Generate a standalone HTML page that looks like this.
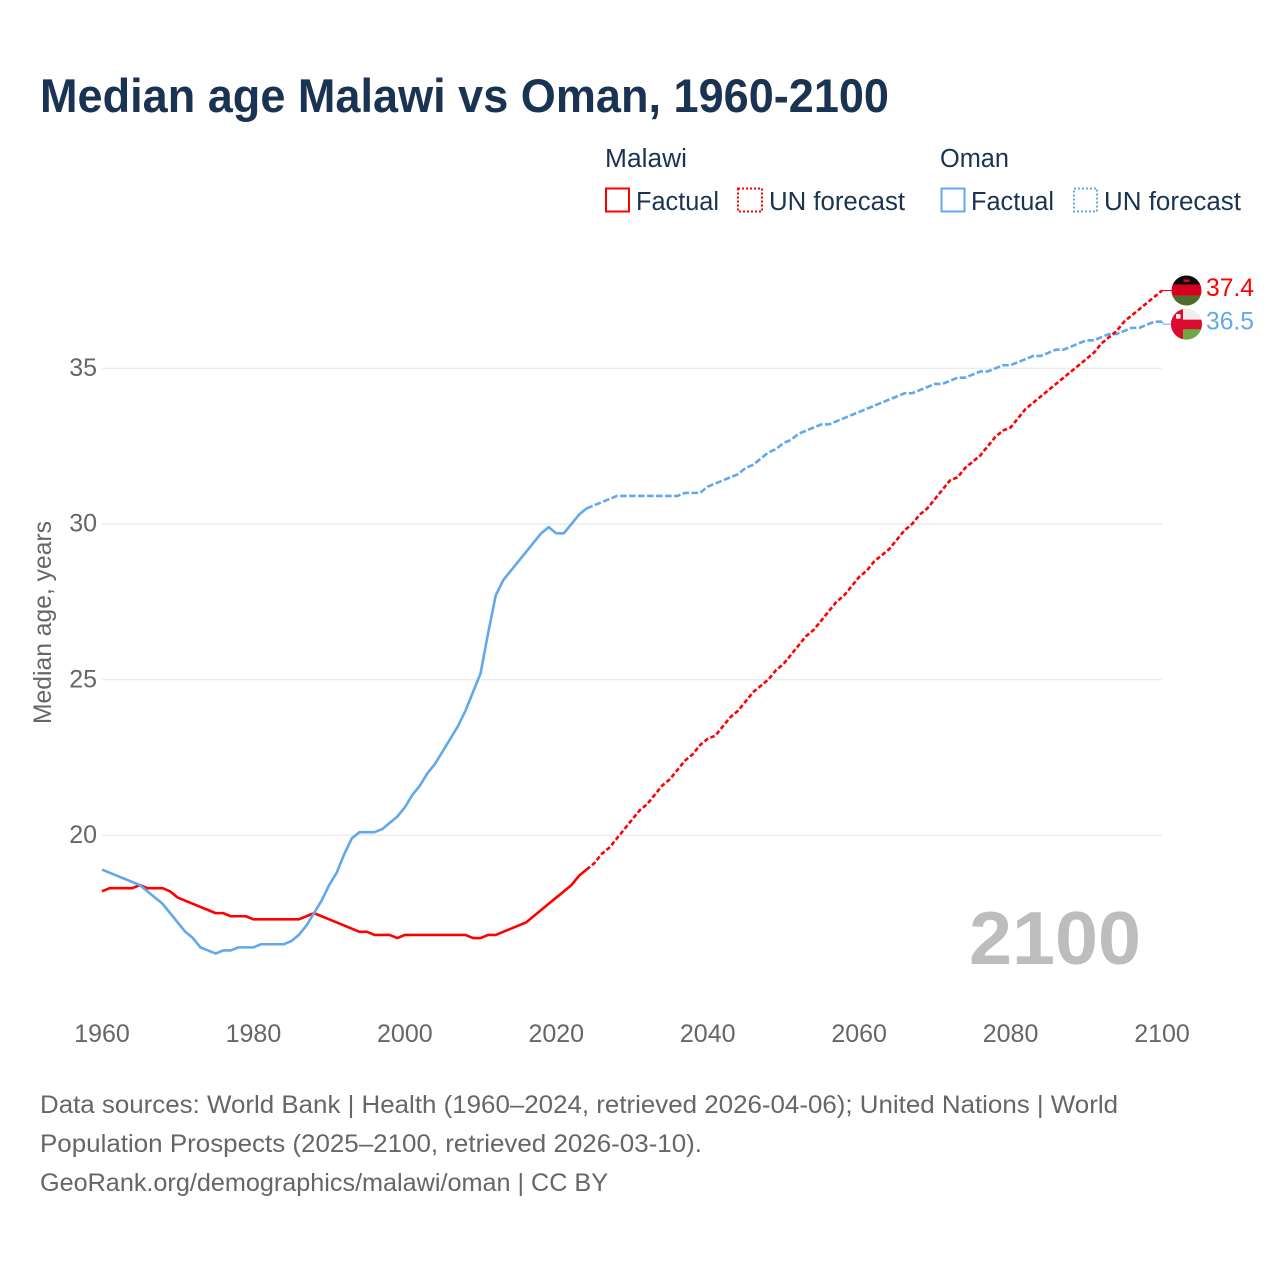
<!DOCTYPE html>
<html lang="en">
<head>
<meta charset="utf-8">
<title>Median age Malawi vs Oman, 1960-2100</title>
<style>
html,body{margin:0;padding:0;background:#fff;}
svg{display:block;}
text{font-family:"Liberation Sans",sans-serif;}
</style>
</head>
<body>
<svg id="chart" xmlns="http://www.w3.org/2000/svg" width="1280" height="1280" viewBox="0 0 1280 1280">
  <rect x="0" y="0" width="1280" height="1280" fill="#ffffff"/>
  <text x="40" y="112" font-size="47" font-weight="700" fill="#1a3352" textLength="849" lengthAdjust="spacingAndGlyphs">Median age Malawi vs Oman, 1960-2100</text>

  <g fill="#1a3352" font-size="25.5">
    <text x="605" y="167" textLength="82" lengthAdjust="spacingAndGlyphs">Malawi</text>
    <text x="940" y="167" textLength="69" lengthAdjust="spacingAndGlyphs">Oman</text>
    <rect x="606" y="188.500" width="23" height="23" fill="none" stroke="#ff0000" stroke-width="2"/>
    <text x="636" y="210" textLength="83" lengthAdjust="spacingAndGlyphs">Factual</text>
    <rect x="738" y="188.500" width="24" height="23" fill="none" stroke="#ff0000" stroke-width="2" stroke-dasharray="2 2"/>
    <text x="769" y="210" textLength="136" lengthAdjust="spacingAndGlyphs">UN forecast</text>
    <rect x="941.500" y="188.500" width="23" height="23" fill="none" stroke="#62a8ea" stroke-width="2"/>
    <text x="971" y="210" textLength="83" lengthAdjust="spacingAndGlyphs">Factual</text>
    <rect x="1074" y="188.500" width="23" height="23" fill="none" stroke="#62a8ea" stroke-width="2" stroke-dasharray="2 2"/>
    <text x="1104" y="210" textLength="137" lengthAdjust="spacingAndGlyphs">UN forecast</text>
  </g>

  <text transform="translate(51,724) rotate(-90)" x="0" y="0" font-size="25" fill="#666666" textLength="203" lengthAdjust="spacingAndGlyphs">Median age, years</text>
  <g id="grid"></g>
  <g id="yticks"></g>
  <g id="xticks"></g>
  <text x="969" y="964" font-size="75" font-weight="700" fill="#bdbdbd" textLength="172" lengthAdjust="spacingAndGlyphs">2100</text>
  <g id="series"></g>

  <defs>
    <clipPath id="clip-malawi"><circle id="clip-malawi-c" cx="1186.500" cy="290" r="15"/></clipPath>
    <clipPath id="clip-oman"><circle id="clip-oman-c" cx="1186.500" cy="323.500" r="15.500"/></clipPath>
  </defs>
  <g id="flag-malawi" clip-path="url(#clip-malawi)">
    <rect x="1170" y="274" width="33" height="10" fill="#0c0c0c"/>
    <rect x="1170" y="284" width="33" height="11" fill="#d6001c"/>
    <rect x="1170" y="295" width="33" height="11" fill="#4e6d2d"/>
    <rect x="1183.500" y="279" width="6" height="2.500" fill="#c8102e"/>
  </g>
  <g id="flag-oman" clip-path="url(#clip-oman)">
    <rect x="1170" y="307" width="33" height="33" fill="#eeeeee"/>
    <rect x="1183" y="328" width="20" height="12" fill="#6ca845"/>
    <rect x="1170" y="319" width="33" height="9.500" fill="#db0a2e"/>
    <rect x="1170" y="307" width="13" height="33" fill="#db0a2e"/>
    <rect x="1176" y="313.500" width="4.500" height="4.500" fill="#f5f5f5"/>
  </g>
  <text id="label-malawi" x="1206" y="296" font-size="25" fill="#ff0000" textLength="48" lengthAdjust="spacingAndGlyphs"></text>
  <text id="label-oman" x="1206" y="330" font-size="25" fill="#62a8ea" textLength="48" lengthAdjust="spacingAndGlyphs"></text>

  <g font-size="25" fill="#666666">
    <text x="40" y="1113" textLength="1078" lengthAdjust="spacingAndGlyphs">Data sources: World Bank | Health (1960–2024, retrieved 2026-04-06); United Nations | World</text>
    <text x="40" y="1152" textLength="662" lengthAdjust="spacingAndGlyphs">Population Prospects (2025–2100, retrieved 2026-03-10).</text>
    <text x="40" y="1191" textLength="568" lengthAdjust="spacingAndGlyphs">GeoRank.org/demographics/malawi/oman | CC BY</text>
  </g>
</svg>

<script>
const xTickYears = [1960, 1980, 2000, 2020, 2040, 2060, 2080, 2100];
const yTickValues = [20, 25, 30, 35];
const factualStartYear = 1960;
const forecastStartYear = 2024;
const endValueLabels = ['37.4', '36.5'];

const malawiFactual = [
  18.2,18.3,18.3,18.3,18.3,18.4,18.3,18.3,18.3,18.2,
  18.0,17.9,17.8,17.7,17.6,17.5,17.5,17.4,17.4,17.4,
  17.3,17.3,17.3,17.3,17.3,17.3,17.3,17.4,17.5,17.4,
  17.3,17.2,17.1,17.0,16.9,16.9,16.8,16.8,16.8,16.7,
  16.8,16.8,16.8,16.8,16.8,16.8,16.8,16.8,16.8,16.7,
  16.7,16.8,16.8,16.9,17.0,17.1,17.2,17.4,17.6,17.8,
  18.0,18.2,18.4,18.7,18.9
];
const omanFactual = [
  18.9,18.8,18.7,18.6,18.5,18.4,18.2,18.0,17.8,17.5,
  17.2,16.9,16.7,16.4,16.3,16.2,16.3,16.3,16.4,16.4,
  16.4,16.5,16.5,16.5,16.5,16.6,16.8,17.1,17.5,17.9,
  18.4,18.8,19.4,19.9,20.1,20.1,20.1,20.2,20.4,20.6,
  20.9,21.3,21.6,22.0,22.3,22.7,23.1,23.5,24.0,24.6,
  25.2,26.5,27.7,28.2,28.5,28.8,29.1,29.4,29.7,29.9,
  29.7,29.7,30.0,30.3,30.5
];
const malawiForecast = [
  18.9,19.1,19.4,19.6,19.9,20.2,
  20.5,20.8,21.0,21.3,21.6,21.8,22.1,22.4,22.6,22.9,
  23.1,23.2,23.5,23.8,24.0,24.3,24.6,24.8,25.0,25.3,
  25.5,25.8,26.1,26.4,26.6,26.9,27.2,27.5,27.7,28.0,
  28.3,28.5,28.8,29.0,29.2,29.5,29.8,30.0,30.3,30.5,
  30.8,31.1,31.4,31.5,31.8,32.0,32.2,32.5,32.8,33.0,
  33.1,33.4,33.7,33.9,34.1,34.3,34.5,34.7,34.9,35.1,
  35.3,35.5,35.8,36.0,36.2,36.5,36.7,36.9,37.1,37.3,
  37.5
];
const omanForecast = [
  30.5,30.6,30.7,30.8,30.9,30.9,
  30.9,30.9,30.9,30.9,30.9,30.9,30.9,31.0,31.0,31.0,
  31.2,31.3,31.4,31.5,31.6,31.8,31.9,32.1,32.3,32.4,
  32.6,32.7,32.9,33.0,33.1,33.2,33.2,33.3,33.4,33.5,
  33.6,33.7,33.8,33.9,34.0,34.1,34.2,34.2,34.3,34.4,
  34.5,34.5,34.6,34.7,34.7,34.8,34.9,34.9,35.0,35.1,
  35.1,35.2,35.3,35.4,35.4,35.5,35.6,35.6,35.7,35.8,
  35.9,35.9,36.0,36.1,36.1,36.2,36.3,36.3,36.4,36.5,
  36.5
];

const NS = 'http://www.w3.org/2000/svg';
const RED = '#ff0000';
const BLUE = '#62a8ea';
function xScale(year) { return 102 + (year - 1960) * (1162 - 102) / 140; }
function yScale(v) { return 835.3 - (v - 20) * 31.13; }
function make(tag, parent) {
  const el = document.createElementNS(NS, tag);
  document.getElementById(parent).appendChild(el);
  return el;
}
function linePoints(values, startYear) {
  return values.map(function (v, i) {
    return xScale(startYear + i).toFixed(2) + ',' + yScale(v).toFixed(2);
  }).join(' ');
}
function drawLine(values, startYear, color, dash, name) {
  const el = make('polyline', 'series');
  
  
  el.setAttribute('points', linePoints(values, startYear));
  el.setAttribute('fill', 'none');
  el.setAttribute('stroke', color);
  el.setAttribute('stroke-width', '2.6');
  el.setAttribute('stroke-linejoin', 'round');
  if (dash) el.setAttribute('stroke-dasharray', dash);
}
function drawConnector(value, year, flagY, color, name) {
  const el = make('polyline', 'series');
  
  
  const x = xScale(year);
  el.setAttribute('points', x + ',' + yScale(value) + ' ' + (x + 1.5) + ',' + flagY + ' ' + (x + 10) + ',' + flagY);
  el.setAttribute('fill', 'none');
  el.setAttribute('stroke', color);
  el.setAttribute('stroke-width', '1');
}

yTickValues.forEach(function (v) {
  const g = make('line', 'grid');
  
  
  g.setAttribute('x1', 102);
  g.setAttribute('x2', 1162);
  g.setAttribute('y1', yScale(v));
  g.setAttribute('y2', yScale(v));
  g.setAttribute('stroke', '#ececec');
  g.setAttribute('stroke-width', '1.5');
  const t = make('text', 'yticks');
  
  
  t.setAttribute('x', 97);
  t.setAttribute('y', yScale(v) + 7.7);
  t.setAttribute('text-anchor', 'end');
  t.setAttribute('font-size', '25');
  t.setAttribute('fill', '#666666');
  t.textContent = String(v);
});
xTickYears.forEach(function (yr) {
  const t = make('text', 'xticks');
  
  
  t.setAttribute('x', xScale(yr));
  t.setAttribute('y', 1042);
  t.setAttribute('text-anchor', 'middle');
  t.setAttribute('font-size', '25');
  t.setAttribute('fill', '#666666');
  t.textContent = String(yr);
});

drawLine(malawiFactual, factualStartYear, RED, null, 'malawi-factual-line');
drawLine(omanFactual, factualStartYear, BLUE, null, 'oman-factual-line');
drawLine(omanForecast, forecastStartYear, BLUE, '6.5 2.5', 'oman-forecast-line');
drawLine(malawiForecast, forecastStartYear, RED, '4.5 2.5', 'malawi-forecast-line');

const malawiLast = malawiForecast[malawiForecast.length - 1];
const omanLast = omanForecast[omanForecast.length - 1];
const lastYear = forecastStartYear + malawiForecast.length - 1;
const malawiFlagY = yScale(malawiLast);
const omanFlagY = Math.max(yScale(omanLast) + 2.5, malawiFlagY + 33.5);
drawConnector(malawiLast, lastYear, malawiFlagY, RED, 'malawi-end-connector');
drawConnector(omanLast, lastYear, omanFlagY, BLUE, 'oman-end-connector');

document.getElementById('flag-malawi').setAttribute('transform', 'translate(0,' + (malawiFlagY - 290) + ')');
document.getElementById('flag-oman').setAttribute('transform', 'translate(0,' + (omanFlagY - 323.5) + ')');
const labelMalawi = document.getElementById('label-malawi');
labelMalawi.textContent = endValueLabels[0];
labelMalawi.setAttribute('y', malawiFlagY + 5.5);
const labelOman = document.getElementById('label-oman');
labelOman.textContent = endValueLabels[1];
labelOman.setAttribute('y', omanFlagY + 5.5);
</script>
</body>
</html>
